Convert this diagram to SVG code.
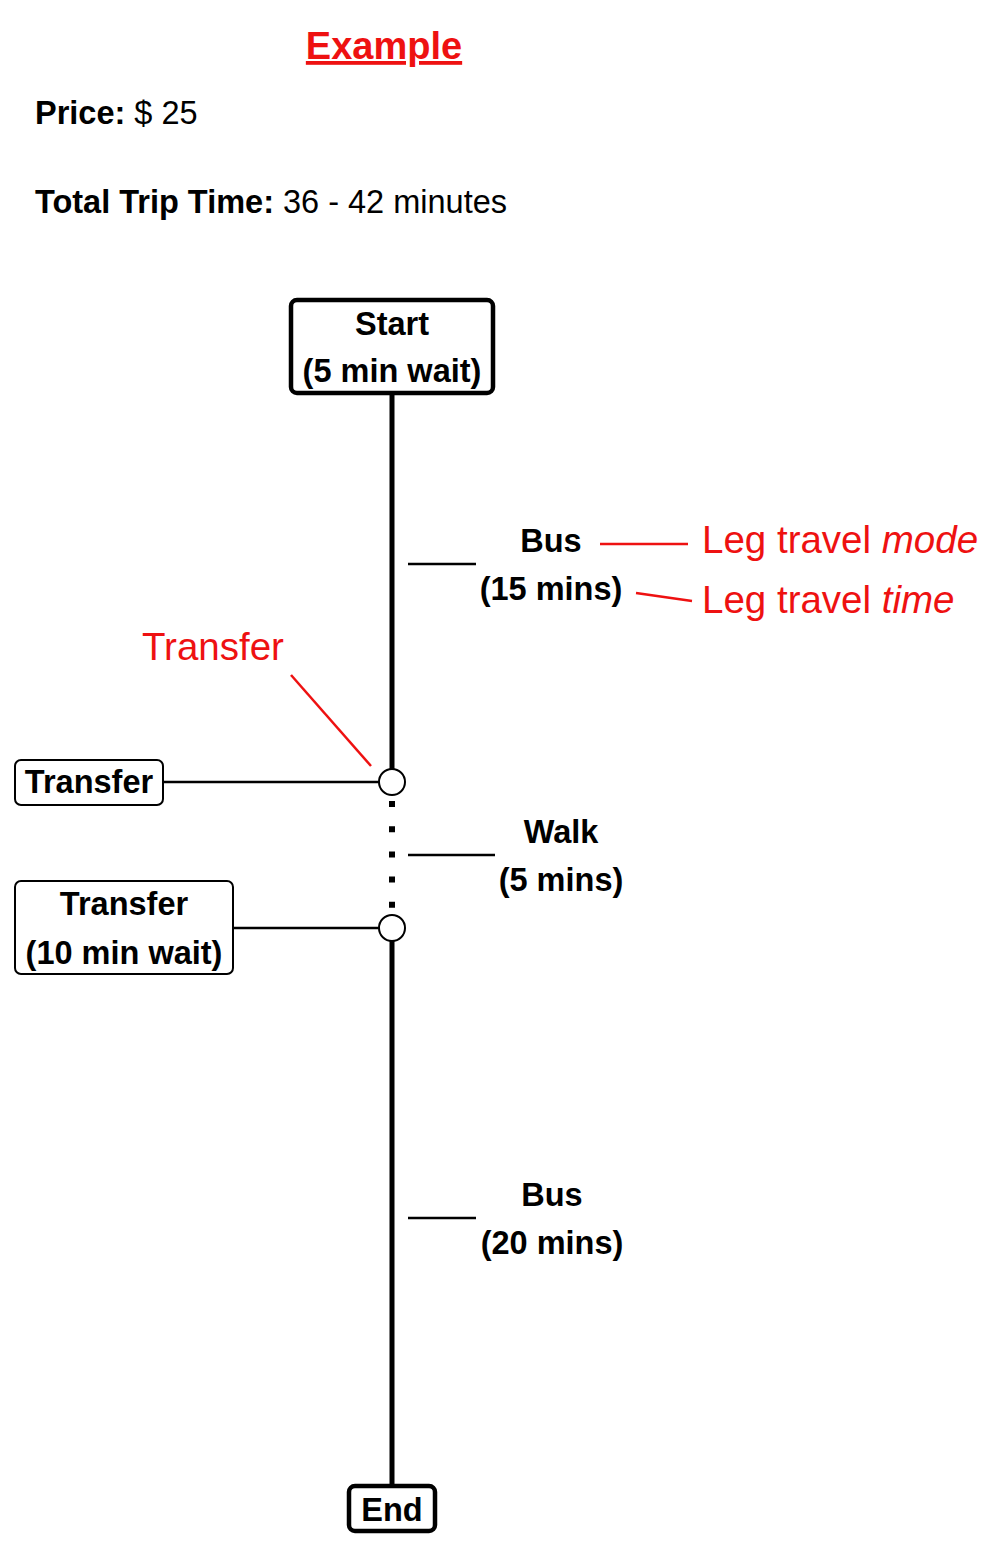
<svg xmlns="http://www.w3.org/2000/svg" width="1000" height="1568" viewBox="0 0 1000 1568">
<style>
text{font-family:"Liberation Sans",Arial,Helvetica,sans-serif;fill:#000}
.b{font-weight:bold;font-size:32.5px}
.r{font-size:32.5px}
.red{fill:#ee1111;font-size:38.5px}
.box{fill:#fff;stroke:#000}
.tick{stroke:#000;stroke-width:2.5}
.rl{stroke:#ee1111;stroke-width:2.5;fill:none}
.main{stroke:#000;stroke-width:5}
</style>
<rect width="1000" height="1568" fill="#fff"/>
<g id="header">
<text x="384" y="59" text-anchor="middle" style="font-weight:bold;font-size:38px;fill:#ee1111;text-decoration:underline">Example</text>
<text x="35" y="124" class="r"><tspan style="font-weight:bold">Price:</tspan> $ 25</text>
<text x="35" y="213" class="r"><tspan style="font-weight:bold">Total Trip Time:</tspan> 36 - 42 minutes</text>
</g>
<g id="connectors">
<line class="main" x1="392" y1="393" x2="392" y2="769"/>
<line class="main" x1="392" y1="941" x2="392" y2="1487"/>
<line x1="392" y1="801" x2="392" y2="911" stroke="#000" stroke-width="6" stroke-dasharray="6 19.2"/>
<line class="tick" x1="163" y1="782" x2="379" y2="782"/>
<line class="tick" x1="233" y1="928" x2="379" y2="928"/>
<line class="tick" x1="408" y1="564" x2="476" y2="564"/>
<line class="tick" x1="408" y1="855" x2="495" y2="855"/>
<line class="tick" x1="408" y1="1218" x2="476" y2="1218"/>
</g>
<g id="start">
<rect class="box" x="291" y="300" width="202" height="93" rx="6" stroke-width="4.5"/>
<text class="b" x="392" y="335" text-anchor="middle">Start</text>
<text class="b" x="392" y="382" text-anchor="middle">(5 min wait)</text>
</g>
<g id="transfer1-node">
<circle class="box" cx="392" cy="782" r="13" stroke-width="2"/>
</g>
<g id="transfer2-node">
<circle class="box" cx="392" cy="928" r="13" stroke-width="2"/>
</g>
<g id="transfer1">
<rect class="box" x="15" y="760" width="148" height="45" rx="6" stroke-width="2"/>
<text class="b" x="89" y="793" text-anchor="middle">Transfer</text>
</g>
<g id="transfer2">
<rect class="box" x="15" y="881" width="218" height="93" rx="6" stroke-width="2"/>
<text class="b" x="124" y="915" text-anchor="middle">Transfer</text>
<text class="b" x="124" y="964" text-anchor="middle">(10 min wait)</text>
</g>
<g id="leg1">
<text class="b" x="551" y="552" text-anchor="middle">Bus</text>
<text class="b" x="551" y="600" text-anchor="middle">(15 mins)</text>
</g>
<g id="leg2">
<text class="b" x="561" y="843" text-anchor="middle">Walk</text>
<text class="b" x="561" y="891" text-anchor="middle">(5 mins)</text>
</g>
<g id="leg3">
<text class="b" x="552" y="1206" text-anchor="middle">Bus</text>
<text class="b" x="552" y="1254" text-anchor="middle">(20 mins)</text>
</g>
<g id="end">
<rect class="box" x="349" y="1486" width="86" height="45" rx="6" stroke-width="4.5"/>
<text class="b" x="392" y="1521" text-anchor="middle">End</text>
</g>
<g id="annotations">
<line class="rl" x1="600" y1="544" x2="688" y2="544"/>
<line class="rl" x1="636" y1="593" x2="692" y2="601"/>
<line class="rl" x1="291" y1="675" x2="371" y2="766"/>
<text class="red" x="702" y="553">Leg travel <tspan font-style="italic">mode</tspan></text>
<text class="red" x="702" y="613">Leg travel <tspan font-style="italic">time</tspan></text>
<text class="red" x="142" y="660">Transfer</text>
</g>
</svg>
